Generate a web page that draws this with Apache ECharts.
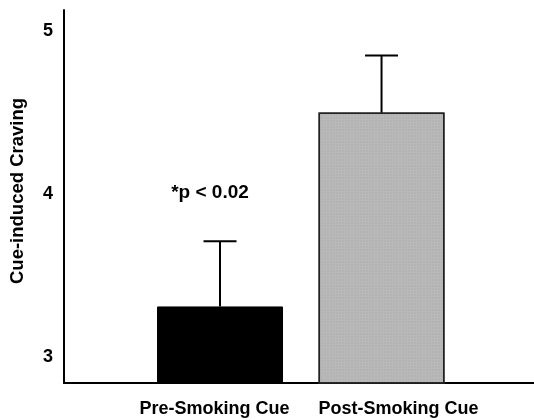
<!DOCTYPE html>
<html><head><meta charset="utf-8">
<script src="https://cdn.jsdelivr.net/npm/echarts@6/dist/echarts.min.js"></script>
<style>html,body{margin:0;padding:0;background:#fff}#c{width:534px;height:420px}</style>
</head><body><div id="c"></div>
<script>
var categories = ['Pre-Smoking Cue', 'Post-Smoking Cue'];
var positions = [1, 2];
var means = [3.31, 4.50];
var errorTops = [3.71, 4.85];
var yTicks = [3, 4, 5];
var annotation = '*p < 0.02';
var yTitle = 'Cue-induced Craving';

var font = 'Liberation Sans, Arial, sans-serif';
var chart = echarts.init(document.getElementById('c'), null, {renderer: 'canvas'});
chart.setOption({
  animation: false,
  grid: {left: 64, right: 0, top: 10, bottom: 37},
  xAxis: {
    type: 'value', min: 0.034, max: 2.944,
    axisLine: {show: true, lineStyle: {color: '#000', width: 2}},
    axisTick: {show: false},
    splitLine: {show: false},
    axisLabel: {
      customValues: positions,
      formatter: function (v) { return '{c' + positions.indexOf(v) + '|' + categories[positions.indexOf(v)] + '}'; },
      color: '#000', fontFamily: font, fontWeight: 'bold', fontSize: 18, margin: 17,
      rich: {
        c0: {fontFamily: font, fontWeight: 'bold', fontSize: 18, color: '#000', padding: [0, 11, 0, 0]},
        c1: {fontFamily: font, fontWeight: 'bold', fontSize: 18, color: '#000', padding: [0, 0, 0, 34]}
      }
    }
  },
  yAxis: {
    type: 'value', min: 2.84, max: 5.13,
    name: yTitle, nameLocation: 'middle', nameGap: 37,
    nameTextStyle: {color: '#000', fontFamily: font, fontWeight: 'bold', fontSize: 18.5, padding: [0, 0, 0, 11]},
    axisLine: {show: true, lineStyle: {color: '#000', width: 2}},
    axisTick: {show: false},
    splitLine: {show: false},
    axisLabel: {
      customValues: yTicks,
      color: '#000', fontFamily: font, fontWeight: 'bold', fontSize: 18, margin: 11
    }
  },
  series: [{
    type: 'bar',
    barWidth: 126,
    data: [
      {value: [positions[0], means[0]], itemStyle: {color: '#000', borderColor: '#000', borderWidth: 1}},
      {value: [positions[1], means[1]], itemStyle: {color: '#b9b9b9', borderColor: '#222', borderWidth: 1.5,
        decal: {symbol: 'rect', symbolSize: 0.5, dashArrayX: [2, 1], dashArrayY: [2, 1], color: 'rgba(120,120,120,0.35)'}}}
    ],
    markPoint: {
      symbol: 'rect', symbolSize: 1,
      itemStyle: {color: 'rgba(0,0,0,0)'},
      label: {show: true, formatter: annotation, color: '#000', fontFamily: font, fontWeight: 'bold', fontSize: 19},
      data: [{coord: [0.938, 4.005]}]
    }
  }, {
    type: 'custom',
    data: positions.map(function (p, i) { return [p, means[i], errorTops[i]]; }),
    renderItem: function (params, api) {
      var base = api.coord([api.value(0), api.value(1)]);
      var top = api.coord([api.value(0), api.value(2)]);
      var hw = 16.5;
      return {type: 'group', children: [
        {type: 'line', shape: {x1: top[0], y1: base[1], x2: top[0], y2: top[1]}, style: {stroke: '#000', lineWidth: 2}},
        {type: 'line', shape: {x1: top[0] - hw, y1: top[1], x2: top[0] + hw, y2: top[1]}, style: {stroke: '#000', lineWidth: 2}}
      ]};
    },
    z: 5
  }]
});
</script></body></html>
